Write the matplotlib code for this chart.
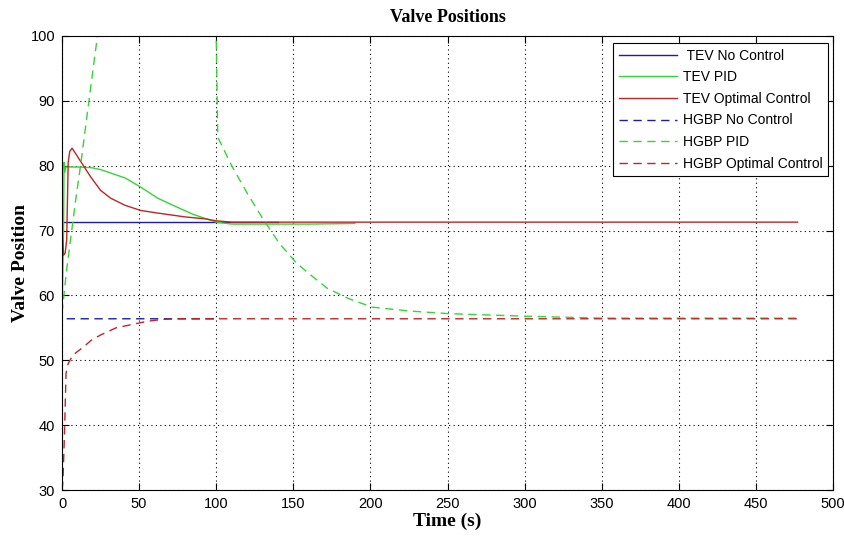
import matplotlib
matplotlib.use("Agg")
import matplotlib.pyplot as plt

# TEV No Control
t_tev_nc = [0, 140]
v_tev_nc = [71.3, 71.3]

# TEV PID
t_tev_pid = [0, 1.0, 1.3, 1.8, 2.5, 5, 10, 19, 25, 30, 41, 51, 62, 71, 85, 100, 110, 130, 160, 190]
v_tev_pid = [57, 70, 80.5, 79, 79.8, 79.8, 79.8, 79.7, 79.4, 79.0, 78.1, 76.7, 75.0, 74.0, 72.5, 71.3, 71.0, 71.0, 71.0, 71.1]

# TEV Optimal Control
t_tev_opt = [0, 1, 2, 3, 4, 5, 6.5, 9, 13.6, 18.8, 25, 31.5, 40.8, 51, 62, 71, 80, 93, 100, 110, 140, 200, 300, 400, 477]
v_tev_opt = [70, 66.2, 66.5, 68.5, 80.5, 82.2, 82.7, 81.8, 80.1, 78.2, 76.2, 75.0, 73.9, 73.1, 72.7, 72.4, 72.1, 71.8, 71.5, 71.3, 71.3, 71.3, 71.3, 71.3, 71.3]

# HGBP No Control
t_hg_nc = [3, 99, 100, 102]
v_hg_nc = [56.4, 56.4, 56.6, 56.5]

# HGBP PID
t_hg_pid = [0, 3, 6, 9, 12, 15, 18, 21, 23, 27, 99, 100, 101, 110, 120, 130, 141, 152, 162, 172, 186, 201, 225, 250, 300, 350, 400, 477]
v_hg_pid = [57.3, 64, 69.5, 75, 80, 85.5, 91, 96.5, 100, 108, 125, 100, 84.4, 80, 75.8, 71.9, 68, 65, 63, 61.1, 59.5, 58.2, 57.6, 57.2, 56.8, 56.5, 56.5, 56.5]

# HGBP Optimal Control
t_hg_opt = [0, 0.6, 1.5, 2.6, 4, 7, 13.6, 19, 25, 35, 45, 55, 65, 75, 85, 100, 200, 300, 400, 477]
v_hg_opt = [30, 31.5, 38, 48, 49.5, 50.8, 52.0, 53.1, 53.9, 55.0, 55.5, 56.0, 56.3, 56.4, 56.4, 56.4, 56.4, 56.4, 56.4, 56.4]

azul = "#1c1caa"
verde = "#33d633"
vermelho = "#c02525"

fig = plt.figure(figsize=(8.44, 5.37), dpi=100)
ax = fig.add_axes([0.0735, 0.0875, 0.9135, 0.8455])

ax.plot(t_tev_nc, v_tev_nc, color=azul, lw=1, label=" TEV No Control")
ax.plot(t_tev_pid, v_tev_pid, color=verde, lw=1, label="TEV PID")
ax.plot(t_tev_opt, v_tev_opt, color=vermelho, lw=1, label="TEV Optimal Control")
ax.plot(t_hg_nc, v_hg_nc, color=azul, lw=1, ls=(0, (6, 4)), label="HGBP No Control")
ax.plot(t_hg_pid, v_hg_pid, color=verde, lw=1, ls=(0, (6, 4)), label="HGBP PID")
ax.plot(t_hg_opt, v_hg_opt, color=vermelho, lw=1, ls=(0, (6, 4)), label="HGBP Optimal Control")

ax.set_xlim(0, 500)
ax.set_ylim(30, 100)
ax.set_xticks(range(0, 501, 50))
ax.set_yticks(range(30, 101, 10))
ax.grid(True, color="black", ls=(0, (1, 3)), lw=0.8)
ax.tick_params(direction="in", top=True, right=True, length=5, labelsize=10.5, pad=5)
for lab in ax.get_xticklabels() + ax.get_yticklabels():
    lab.set_family(["Liberation Sans", "DejaVu Sans"])

serif = ["Liberation Serif", "DejaVu Serif"]
ax.set_title("Valve Positions", fontsize=13, fontweight="bold", family=serif, pad=10)
ax.set_xlabel("Time (s)", fontsize=14, fontweight="bold", family=serif, labelpad=1)
ax.set_ylabel("Valve Position", fontsize=14, fontweight="bold", family=serif, labelpad=1)

leg = ax.legend(loc="upper right", bbox_to_anchor=(0.981, 0.920), bbox_transform=fig.transFigure,
                borderaxespad=0, fancybox=False, edgecolor="black", framealpha=1,
                labelspacing=0.55, handlelength=4.2, handletextpad=0.4, borderpad=0.4,
                prop={"family": ["Liberation Sans", "DejaVu Sans"], "size": 10})
leg.get_frame().set_linewidth(0.8)

fig.savefig("out.png", dpi=100)
